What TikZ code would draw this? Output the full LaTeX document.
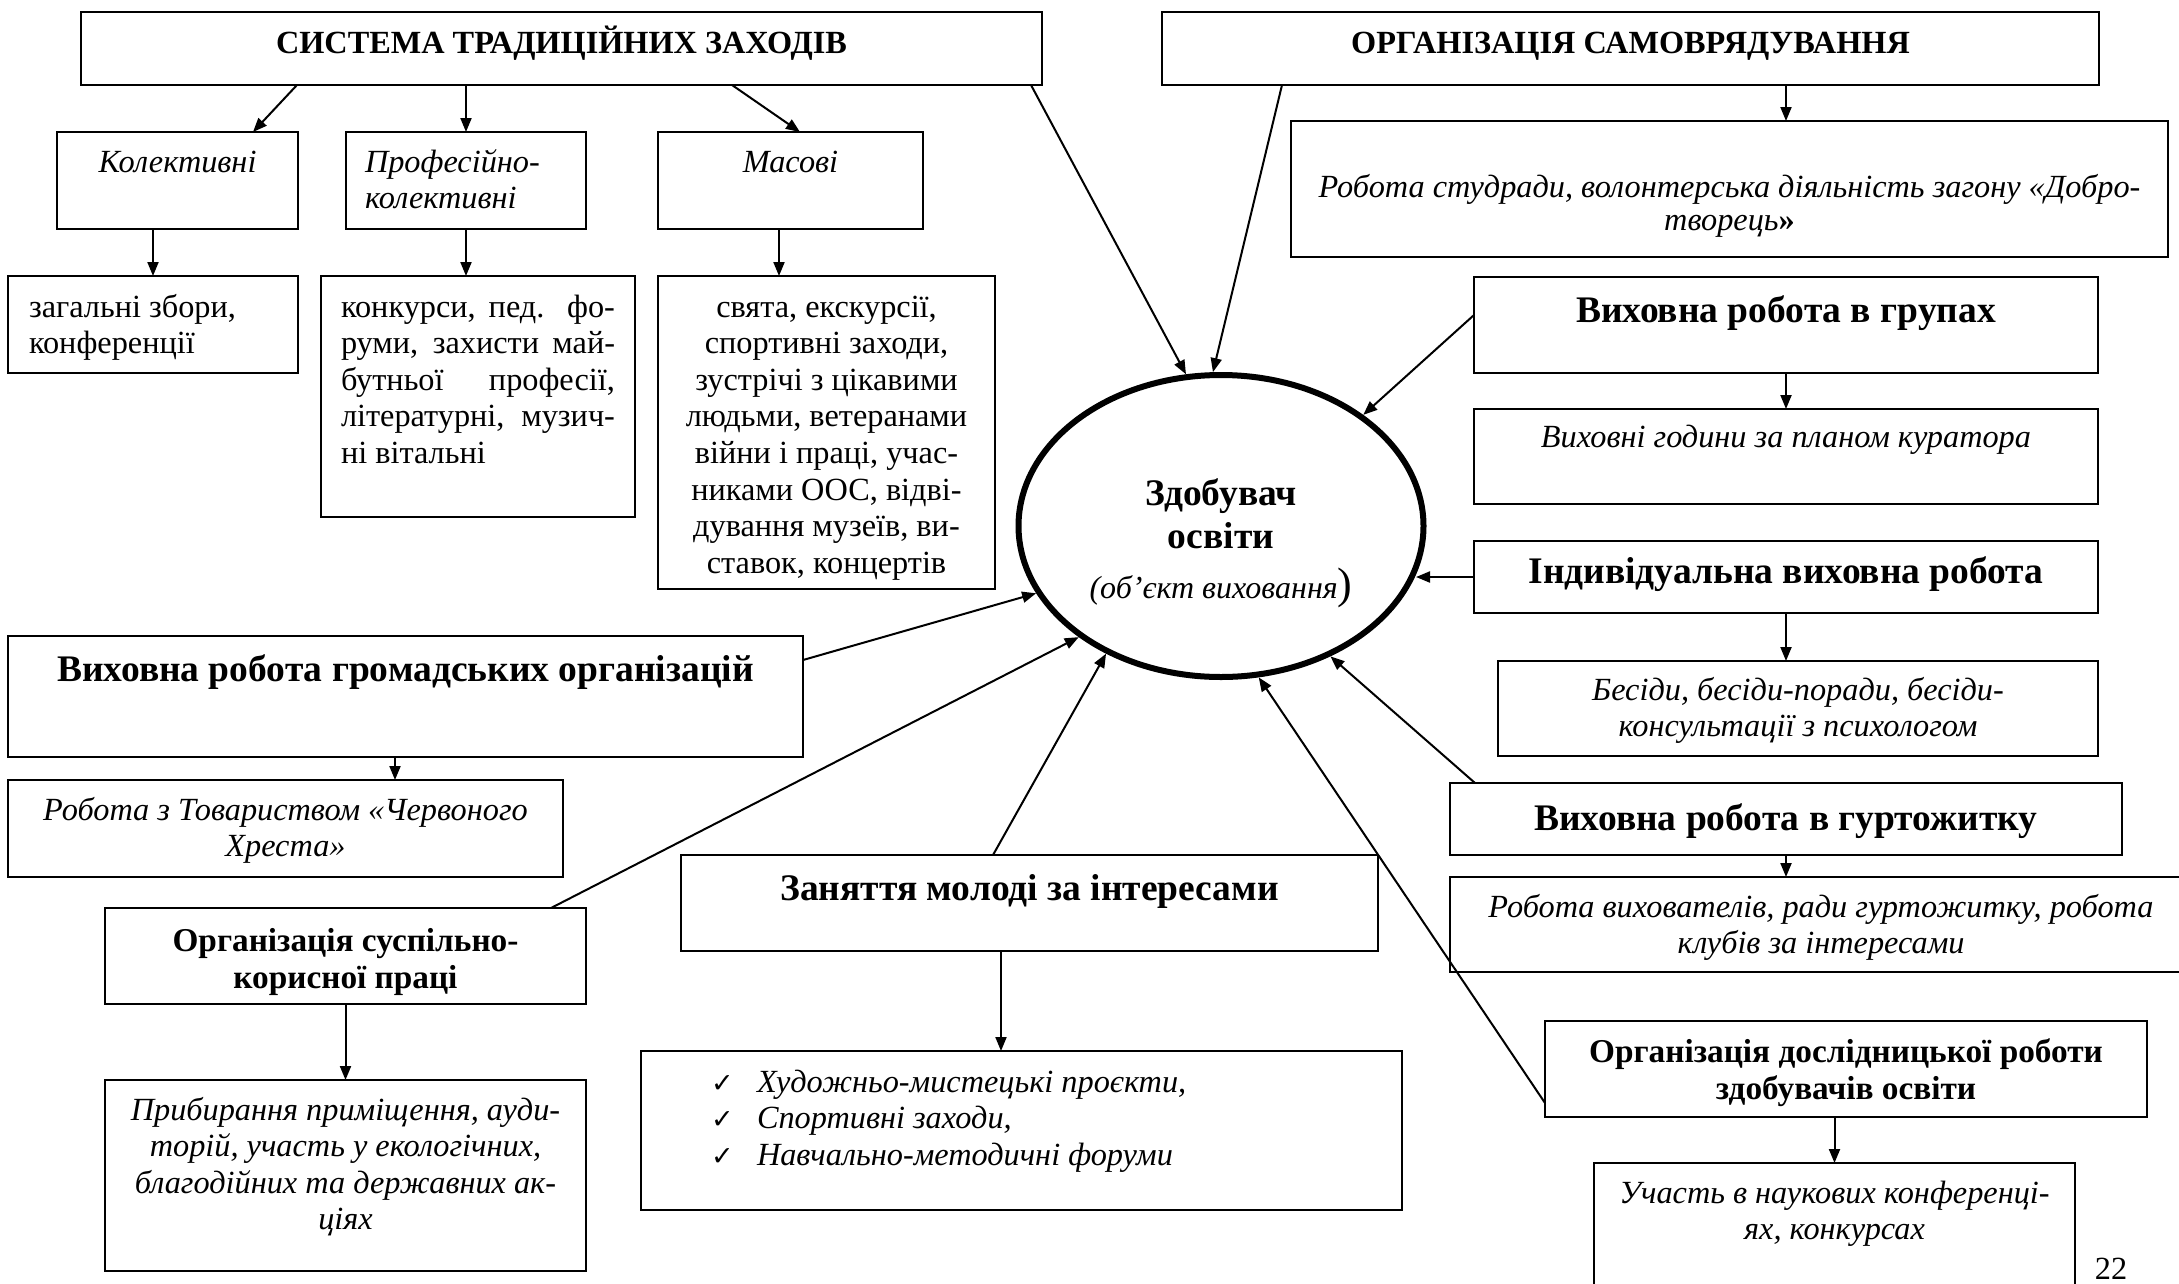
\documentclass[tikz,border=0pt]{standalone}
\usepackage{fontspec}
\setmainfont{Liberation Serif}
\newfontfamily\symf{DejaVu Sans}
\usetikzlibrary{arrows.meta,shapes.geometric,calc}
\newcommand\fr{\fontsize{32.3}{36.6}\selectfont}
\newcommand\fbig{\fontsize{37.5}{43}\selectfont\bfseries}
\newcommand\fbm{\fontsize{33.3}{37}\selectfont\bfseries}
\newcommand\bx[5]{\begin{minipage}[c][#2pt][t]{#1pt}#4\rule{0pt}{#3pt}#5\end{minipage}}
\newcommand\ck{\makebox[46pt][l]{\upshape\symf\fontsize{27}{27}\selectfont ✓}}
\tikzset{
  box/.style={draw, line width=2pt, inner sep=0pt, outer sep=0pt},
  arr/.style={line width=2pt, -{Triangle[length=14pt,width=11pt]}},
}
\begin{document}
\begin{tikzpicture}[x=1pt,y=-1pt,font=\fr]
\useasboundingbox (0,0) rectangle (2179,1283);
% top left
\node[box] (sys) at (561.5,48.5) {\bx{961}{73}{41}{\centering\bfseries}{СИСТЕМА ТРАДИЦІЙНИХ ЗАХОДІВ}};
\node[box] (kol) at (177.5,180.5) {\bx{241}{97}{40}{\centering\itshape}{Колективні}};
\node[box] (prof) at (466,180.5) {\bx{240}{97}{40}{\raggedright\leftskip=19pt\itshape}{Професійно-\\колективні}};
\node[box] (mas) at (790.5,180.5) {\bx{265}{97}{40}{\centering\itshape}{Масові}};
\node[box] (zag) at (153,324.5) {\bx{290}{97}{41}{\raggedright\leftskip=21pt}{загальні збори,\\конференції}};
\node[box] (konk) at (478,396.5) {\bx{314}{241}{41}{\centering}{\makebox[274pt][s]{конкурси, пед. фо-}\\\makebox[274pt][s]{руми, захисти май-}\\\makebox[274pt][s]{бутньої професії,}\\\makebox[274pt][s]{літературні, музич-}\\\makebox[274pt][l]{ні вітальні}}};
\node[box] (svy) at (826.5,432.5) {\bx{337}{313}{41}{\centering}{свята, екскурсії,\\спортивні заходи,\\зустрічі з цікавими\\людьми, ветеранами\\війни і праці, учас-\\никами ООС, відві-\\дування музеїв, ви-\\ставок, концертів}};
% top right
\node[box] (org) at (1630.5,48.5) {\bx{937}{73}{41}{\centering\bfseries}{ОРГАНІЗАЦІЯ САМОВРЯДУВАННЯ}};
\node[box] (stud) at (1729.5,189) {\bx{877}{136}{76}{\centering\itshape\baselineskip=33pt}{Робота студради, волонтерська діяльність загону «Добро-\\творець{\upshape\bfseries »}}};
\node[box] (grup) at (1786,325) {\bx{624}{96}{45}{\centering\fbig}{Виховна робота в групах}};
\node[box] (vyh) at (1786,456.5) {\bx{624}{95}{38}{\centering\itshape}{Виховні години за планом куратора}};
\node[box] (ind) at (1786,577) {\bx{624}{72}{42}{\centering\fbig}{Індивідуальна виховна робота}};
\node[box] (bes) at (1798,708.5) {\bx{600}{95}{39}{\centering\itshape}{Бесіди, бесіди-поради, бесіди-\\консультації з психологом}};
\node[box] (gurt) at (1786,819) {\bx{672}{72}{47}{\centering\fbig}{Виховна робота в гуртожитку}};
\node[box] (vyhov) at (1821,924.5) {\bx{742}{95}{40}{\centering\itshape}{Робота вихователів, ради гуртожитку, робота\\клубів за інтересами}};
\node[box] (dosl) at (1846,1069) {\bx{602}{96}{41}{\centering\fbm}{Організація дослідницької роботи\\здобувачів освіти}};
\node[box] (uch) at (1834.5,1231.5) {\bx{481}{137}{40}{\centering\itshape}{Участь в наукових конференці-\\ях, конкурсах}};
\node[anchor=base] (pg) at (2111,1279) {22};
% left bottom
\node[box] (grom) at (405.5,696.5) {\bx{795}{121}{45}{\centering\fbig}{Виховна робота громадських організацій}};
\node[box] (chv) at (285.5,828.5) {\bx{555}{97}{40}{\centering\itshape}{Робота з Товариством «Червоного\\Хреста»}};
\node[box] (susp) at (345.5,956) {\bx{481}{96}{43}{\centering\fbm}{Організація суспільно-\\корисної праці}};
\node[box] (prib) at (345.5,1175.5) {\bx{481}{191}{40}{\centering\itshape}{Прибирання приміщення, ауди-\\торій, участь у екологічних,\\благодійних та державних ак-\\ціях}};
\node[box] (zan) at (1029.5,903) {\bx{697}{96}{45}{\centering\fbig}{Заняття молоді за інтересами}};
\node[box] (chk) at (1021.5,1130.5) {\bx{761}{159}{41}{\raggedright\leftskip=70pt\itshape}{\ck Художньо-мистецькі проєкти,\\\ck Спортивні заходи,\\\ck Навчально-методичні форуми}};
% centre
\node[ellipse, draw, line width=6pt, minimum width=405pt, minimum height=302pt, inner sep=0pt] (ell) at (1221,526)
  {\bx{260}{180}{69}{\centering\fbig}{Здобувач\\освіти\\[7pt]\makebox[260pt][c]{\mdseries\itshape\fontsize{32}{36}\selectfont(об’єкт виховання\upshape\fontsize{44}{43}\selectfont)}}};
% arrows
\draw[arr] ([xshift=216pt]sys.south west) -- ([xshift=196pt]kol.north west);
\draw[arr] (prof.north |- sys.south) -- (prof.north);
\draw[arr] ([xshift=651pt]sys.south west) -- ([xshift=142pt]mas.north west);
\draw[arr] (zag.north |- kol.south) -- (zag.north);
\draw[arr] (prof.south) -- (prof.south |- konk.north);
\coordinate (m1) at ([xshift=121pt]mas.south west);
\draw[arr] (m1) -- (m1 |- svy.north);
\draw[arr] ([xshift=-11pt]sys.south east) -- (ell.103.5);
\draw[arr] ([xshift=120pt]org.south west) -- (ell.93.7);
\coordinate (o1) at ([xshift=624pt]org.south west);
\draw[arr] (o1) -- (o1 |- stud.north);
\draw[arr] ([yshift=10pt]grup.west) -- (ell.38.9);
\draw[arr] (grup.south) -- (vyh.north);
\draw[arr] (ind.west) -- (ind.west -| ell.-14.6);
\draw[arr] (ind.south) -- (ind.south |- bes.north);
\draw[arr] ([xshift=25pt]gurt.north west) -- (ell.-50.8);
\draw[arr] (gurt.south) -- (gurt.south |- vyhov.north);
\draw[arr] ([yshift=14pt]dosl.south west) -- (ell.-76.3);
\draw[arr] (uch.north |- dosl.south) -- (uch.north);
\draw[arr] ([yshift=-24pt]grom.north east) -- (ell.-160.7);
\coordinate (g1) at ([xshift=387pt]grom.south west);
\draw[arr] (g1) -- (g1 |- chv.north);
\draw[arr] ([xshift=446pt]susp.north west) -- (ell.-142.5);
\draw[arr] (susp.south) -- (prib.north);
\draw[arr] ([xshift=312pt]zan.north west) -- (ell.-132.3);
\coordinate (z1) at ([xshift=320pt]zan.south west);
\draw[arr] (z1) -- (z1 |- chk.north);
\end{tikzpicture}
\end{document}
